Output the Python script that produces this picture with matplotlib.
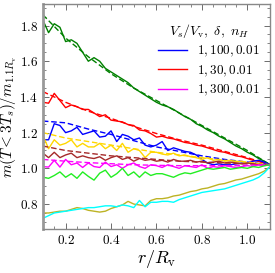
import numpy as np
import matplotlib
matplotlib.use("Agg")
import matplotlib.pyplot as plt
from matplotlib.ticker import MultipleLocator

plt.rcParams['mathtext.fontset'] = 'cm'
plt.rcParams['font.family'] = 'serif'
plt.rcParams['font.serif'] = ['DejaVu Serif']

# radial bins (r / R_v)
r = np.linspace(0.1, 1.1, 41)
r_fit = np.linspace(0.1, 1.1, 11)

green = [1.83, 1.76, 1.81, 1.79, 1.71, 1.72, 1.70, 1.65, 1.60, 1.62, 1.60, 1.56, 1.54, 1.52,
         1.50, 1.48, 1.45, 1.43, 1.41, 1.39, 1.37, 1.355, 1.345, 1.33, 1.31, 1.29, 1.275, 1.25,
         1.235, 1.215, 1.20, 1.18, 1.165, 1.145, 1.125, 1.11, 1.09, 1.075, 1.055, 1.04, 1.02]
green_fit = [1.86, 1.73, 1.625, 1.53, 1.45, 1.38, 1.31, 1.24, 1.17, 1.10, 1.02]

red = [1.37, 1.365, 1.42, 1.38, 1.34, 1.355, 1.345, 1.33, 1.33, 1.31, 1.29, 1.30, 1.27, 1.265,
       1.26, 1.245, 1.24, 1.215, 1.21, 1.195, 1.175, 1.18, 1.17, 1.165, 1.155, 1.145, 1.14, 1.13,
       1.125, 1.115, 1.105, 1.095, 1.09, 1.08, 1.07, 1.065, 1.055, 1.045, 1.04, 1.03, 1.02]
red_fit = [1.43, 1.37, 1.32, 1.28, 1.235, 1.195, 1.16, 1.13, 1.095, 1.06, 1.02]

blue = [1.16, 1.16, 1.25, 1.24, 1.20, 1.21, 1.23, 1.19, 1.20, 1.21, 1.175, 1.18, 1.21, 1.15,
        1.19, 1.18, 1.16, 1.17, 1.13, 1.12, 1.13, 1.15, 1.10, 1.115, 1.105, 1.095, 1.09, 1.075,
        1.05, 1.03, 1.02, 1.025, 1.02, 1.02, 1.025, 1.03, 1.03, 1.04, 1.045, 1.035, 1.02]
blue_fit = [1.265, 1.255, 1.22, 1.19, 1.155, 1.12, 1.095, 1.07, 1.05, 1.035, 1.02]

gold = [1.185, 1.11, 1.16, 1.13, 1.14, 1.16, 1.12, 1.14, 1.12, 1.12, 1.14, 1.11, 1.13, 1.10,
        1.14, 1.09, 1.11, 1.10, 1.06, 1.09, 1.09, 1.08, 1.075, 1.085, 1.07, 1.075, 1.065, 1.06,
        1.05, 1.06, 1.045, 1.05, 1.04, 1.045, 1.035, 1.04, 1.03, 1.03, 1.025, 1.02, 1.02]
gold_fit = [1.20, 1.17, 1.15, 1.13, 1.11, 1.09, 1.075, 1.06, 1.045, 1.035, 1.02]

brown = [1.085, 1.06, 1.09, 1.06, 1.075, 1.085, 1.06, 1.07, 1.06, 1.055, 1.065, 1.045, 1.06, 1.07,
         1.05, 1.06, 1.04, 1.055, 1.045, 1.05, 1.04, 1.045, 1.035, 1.05, 1.04, 1.04, 1.045, 1.035,
         1.04, 1.03, 1.035, 1.04, 1.03, 1.035, 1.03, 1.025, 1.03, 1.025, 1.02, 1.02, 1.02]
brown_fit = [1.125, 1.10, 1.085, 1.07, 1.06, 1.05, 1.04, 1.035, 1.03, 1.025, 1.02]

magenta = [1.01, 1.007, 1.045, 1.007, 1.05, 1.02, 1.03, 1.005, 1.03, 1.01, 1.005, 1.035, 1.01, 1.02,
           1.0, 1.02, 1.03, 1.01, 1.0, 1.02, 1.015, 1.005, 1.02, 1.01, 1.0, 1.015, 1.01, 1.005,
           1.02, 1.0, 1.01, 1.005, 1.015, 1.01, 1.005, 1.01, 1.015, 1.01, 1.02, 1.015, 1.02]
magenta_fit = [1.05, 1.04, 1.032, 1.026, 1.02, 1.017, 1.015, 1.015, 1.015, 1.017, 1.02]

lime = [0.95, 0.944, 0.96, 0.98, 0.95, 0.97, 0.944, 0.98, 0.955, 0.934, 0.973, 0.99, 0.95, 0.97,
        1.0, 0.96, 0.98, 0.95, 0.98, 0.96, 0.97, 0.97, 0.96, 0.95, 0.965, 0.975, 0.97, 0.98,
        0.99, 1.0, 0.995, 1.0, 1.005, 0.995, 1.0, 1.005, 1.0, 1.01, 1.005, 1.015, 1.02]

olive = [0.75, 0.75, 0.755, 0.76, 0.76, 0.77, 0.78, 0.775, 0.765, 0.76, 0.755, 0.76, 0.775, 0.785,
         0.795, 0.815, 0.80, 0.795, 0.79, 0.82, 0.83, 0.83, 0.835, 0.845, 0.85, 0.86, 0.87, 0.875,
         0.885, 0.89, 0.90, 0.91, 0.915, 0.925, 0.935, 0.94, 0.95, 0.96, 0.97, 0.985, 1.01]

cyan = [0.72, 0.735, 0.75, 0.755, 0.76, 0.765, 0.77, 0.775, 0.78, 0.78, 0.785, 0.79, 0.79, 0.785,
        0.795, 0.79, 0.78, 0.82, 0.785, 0.81, 0.81, 0.815, 0.815, 0.81, 0.825, 0.835, 0.845, 0.855,
        0.865, 0.87, 0.875, 0.88, 0.885, 0.895, 0.905, 0.915, 0.925, 0.935, 0.95, 0.975, 1.01]

fig = plt.figure(figsize=(2.75, 2.73), dpi=100)
ax = fig.add_axes([0.156, 0.161, 0.826, 0.824])

lw = 1.0
ax.plot(r, green, color='#008000', lw=lw)
ax.plot(r_fit, green_fit, color='#008000', lw=lw, ls=(0, (4, 2)))
ax.plot(r, red, color='#ff0000', lw=lw, label=r'$1, 30, 0.01$')
ax.plot(r_fit, red_fit, color='#ff0000', lw=lw, ls=(0, (4, 2)))
ax.plot(r, blue, color='#0000ff', lw=lw, label=r'$1, 100, 0.01$')
ax.plot(r_fit, blue_fit, color='#0000ff', lw=lw, ls=(0, (4, 2)))
ax.plot(r, gold, color='#ffd700', lw=lw)
ax.plot(r_fit, gold_fit, color='#ffd700', lw=lw, ls=(0, (4, 2)))
ax.plot(r, brown, color='#a52a2a', lw=lw)
ax.plot(r_fit, brown_fit, color='#a52a2a', lw=lw, ls=(0, (4, 2)))
ax.plot(r, magenta, color='#ff00ff', lw=lw, label=r'$1, 300, 0.01$')
ax.plot(r_fit, magenta_fit, color='#ff00ff', lw=lw, ls=(0, (4, 2)))
ax.plot(r, lime, color='#22ee22', lw=lw)
ax.plot(r, olive, color='#bdb325', lw=lw)
ax.plot(r, cyan, color='#00ffff', lw=lw)

ax.set_xlim(0.1, 1.1)
ax.set_ylim(0.66, 1.92)

ax.xaxis.set_minor_locator(MultipleLocator(0.05))
ax.yaxis.set_minor_locator(MultipleLocator(0.05))
ax.set_xticks([0.2, 0.4, 0.6, 0.8, 1.0])
ax.set_xticklabels([f'${v:.1f}$' for v in [0.2, 0.4, 0.6, 0.8, 1.0]])
ax.set_yticks([0.8, 1.0, 1.2, 1.4, 1.6, 1.8])
ax.set_yticklabels([f'${v:.1f}$' for v in [0.8, 1.0, 1.2, 1.4, 1.6, 1.8]])
ax.tick_params(which='both', direction='in', top=True, right=True, labelsize=9.5,
               color='#555555')
ax.tick_params(which='major', length=4, width=0.6)
ax.tick_params(which='minor', length=2, width=0.5)
for side in ['top', 'right', 'bottom']:
    ax.spines[side].set_color('#888888')
    ax.spines[side].set_linewidth(1.0)
ax.spines['left'].set_color('#999999')
ax.spines['left'].set_linewidth(2.0)

ax.set_xlabel(r'$r/R_{\rm v}$', fontsize=13, labelpad=1)
ax.set_ylabel(r'$m(T<3T_s)/m_{1.1R_{\rm v}}$', fontsize=11, labelpad=0)

handles, labels = ax.get_legend_handles_labels()
order = [1, 0, 2]
ax.legend([handles[i] for i in order], [labels[i] for i in order],
          title=r'$V_s/V_{\rm v},\ \delta,\ n_H$', frameon=False, fontsize=9.5,
          title_fontsize=10, loc='upper right', handlelength=2.2,
          borderaxespad=0.2, labelspacing=0.3, bbox_to_anchor=(0.99, 0.955))

fig.savefig('out.png', dpi=100)
